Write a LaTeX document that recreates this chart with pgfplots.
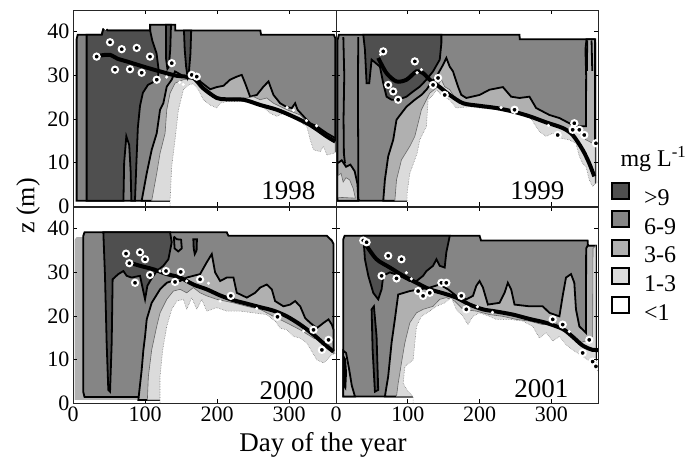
\documentclass[border=0pt]{standalone}
\usepackage{fontspec}
\setmainfont{Liberation Serif}
\usepackage{pgfplots}
\pgfplotsset{compat=1.18}
\definecolor{cNine}{gray}{0.31}
\definecolor{cSix}{gray}{0.52}
\definecolor{cThree}{gray}{0.69}
\definecolor{cOne}{gray}{0.86}
\tikzset{yr/.style={font=\fontsize{27}{28}\selectfont, anchor=base east}}
\pgfplotsset{
 panel/.style={
  scale only axis, width=263pt, height=196pt,
  xmin=0, xmax=365, ymin=0, ymax=45,
  xtick={0,100,200,300}, ytick={0,10,20,30,40},
  tick align=inside, tick pos=both, ticklabel pos=left,
  major tick length=4pt,
  tick style={black, line width=0.6pt},
  axis line style={line width=0.7pt, black!85},
  /pgf/number format/assume math mode=true,
  tick label style={font=\fontsize{22}{24}\selectfont},
  axis on top, clip mode=individual,
 },
 env/.style={fill=cSix, draw=black, line width=1.8pt},
 r36/.style={fill=cThree, draw=black, line width=1.8pt},
 r13/.style={fill=cOne, draw=black!60, line width=0.6pt},
 rW/.style={fill=white, draw=black!50, line width=0.6pt, densely dotted},
 r9/.style={fill=cNine, draw=black, line width=1.8pt},
 cline/.style={black, line width=1.8pt},
 tcl/.style={black, line width=4pt, smooth, tension=0.5},
 circ/.style={only marks, mark=*, mark size=3.1pt, mark options={fill=black, draw=white, line width=2pt, solid}},
 dots/.style={only marks, mark=*, mark size=1.4pt, mark options={fill=white, draw=white}},
}
\begin{document}
\begin{tikzpicture}
\path[use as bounding box] (0pt,0pt) rectangle (700pt,-457pt);

% ---------------- 1998 ----------------
\begin{axis}[panel, at={(73pt,-206pt)}, anchor=south west, xticklabels={}]
\addplot[env] coordinates {(5,1.2) (5,38.3) (6.5,39.3) (40,39.3) (42,40.6) (46,40.6) (48,40.3) (107,40.3) (107,41.6) (142,41.6) (142,40.3) (260,40.3) (261,39.3) (362,39.3) (364,38.5) (364,1.2)} --cycle;
\addplot[r36] coordinates {(95.3,1.2) (102.3,7.5) (109.2,12.9) (116.2,16.7) (120.8,22.1) (125.4,23.6) (130.1,27.4) (137,29.0) (141.6,30.9) (157.8,29.4) (171.7,30.1) (176.4,28.6) (190.3,26.8) (199.5,27.3) (208.8,27.6) (218,29.0) (227.3,29.7) (234.2,30.1) (238.9,28.2) (245.8,25.1) (255.1,25.5) (264.3,27.4) (271.3,28.6) (278.2,25.5) (287.5,23.6) (296.7,22.7) (303.7,22.5) (308.3,23.6) (311.6,22.1) (319.9,20.6) (329.2,19.0) (338.4,18.3) (352.3,16.7) (364,15.6) (364,1.2)} --cycle;
\addplot[r13] coordinates {(109.2,1.2) (116.2,7.5) (120.8,12.1) (127.8,16.7) (130.1,22.1) (134.7,25.9) (141.6,28.2) (153.2,29.0) (167.1,29.0) (176.4,27.1) (185.6,25.9) (199.5,24.5) (222.7,24.8) (241.2,24.8) (250.4,25.1) (259.7,24.4) (268.9,24.8) (278.2,23.6) (296.7,22.1) (315.3,20.9) (329.2,18.6) (352.3,15.6) (364,14.8) (364,1.2)} --cycle;
\addplot[rW] coordinates {(134.7,-1) (134.7,1.0) (137,9.1) (141.6,15.2) (146.3,22.1) (153.2,26.7) (160.2,27.8) (167.1,28.1) (174,26.7) (181,24.4) (190.3,23.2) (199.5,22.5) (204.2,23.6) (213.4,24.0) (236.5,24.0) (259.7,23.2) (273.6,21.3) (282.8,20.6) (292.1,21.3) (306,20.2) (324.5,18.3) (329.2,15.2) (333.8,12.9) (343,12.5) (347.7,13.7) (352.3,11.7) (361.6,12.1) (366,12.5) (366,-1)} --cycle;
\addplot[r9] coordinates {(18.9,1.2) (18.9,39.3) (40,39.3) (42,40.6) (46,40.6) (48,40.3) (107,40.3) (110,38) (116,35) (119,31) (117,29) (112,28.5) (104,27.8) (97,26) (93,23) (90,18) (88,10) (86,1.2) (81,1.2) (80,8) (78,14) (74,16) (71,10) (70,1.2)} --cycle;
\addplot[r9] coordinates {(129,41.6) (136,41.6) (135,36) (133,32) (131,31.5) (129,34)} --cycle;
\addplot[r9] coordinates {(154,40.3) (164,40.3) (163,35) (161,31) (159,29.7) (157,32) (155,36)} --cycle;
\addplot[tcl] coordinates {(30.6,34.3) (40,34.6) (51.4,34.7) (62,33.8) (74.5,33.2) (97.7,32.0) (120.8,30.9) (144,29.9) (167,29.4) (181,27.0) (199.5,24.8) (213,24.5) (236.6,24.4) (259.7,23.2) (283,22.1) (306,20.5) (329,18.6) (352,16.0) (364,14.8)};
\addplot[dots] coordinates {(45,40.8) (130,29.6) (148,28.4) (153,27.9) (297,22.6) (306,22) (324,19.6) (338,18.4)};
\addplot[circ] coordinates {(32.8,34.3) (51.4,37.6) (67.6,36.0) (88.4,36.3) (106.9,34.3) (58.3,31.3) (79.1,31.4) (95.3,30.6) (116.2,29.0) (137,32.8) (164.8,30.1) (171.7,29.7)};
\node[yr] at (rel axis cs:0.935,0.035) {1998};
\end{axis}

% ---------------- 1999 ----------------
\begin{axis}[panel, at={(336pt,-206pt)}, anchor=south west, width=262pt, xticklabels={}, yticklabels={},
  legend style={at={(axis description cs:1.05,0.125)}, anchor=north west, draw=none, fill=none,
    font=\fontsize{24}{26}\selectfont, row sep=1pt, legend cell align=left, inner sep=0pt,
    /tikz/every odd column/.append style={column sep=12pt}},
  legend image code/.code={\draw[#1,line width=1.8pt] (0pt,0pt) rectangle (17pt,16pt);}]
\addlegendimage{fill=cNine, draw=black}\addlegendentry{>9}
\addlegendimage{fill=cSix, draw=black}\addlegendentry{6-9}
\addlegendimage{fill=cThree, draw=black}\addlegendentry{3-6}
\addlegendimage{fill=cOne, draw=black}\addlegendentry{1-3}
\addlegendimage{fill=white, draw=black}\addlegendentry{<1}
\addplot[env, forget plot] coordinates {(2,1.2) (2,38) (4,39.3) (255.6,39.3) (256,38.3) (360,38.3) (361,37.5) (361,1.2)} --cycle;
\addplot[r36, forget plot] coordinates {(2,1.2) (2,9.8) (8,10.5) (14,9) (20,9.5) (26,8) (30,5) (31,1.2)} --cycle;
\addplot[r13, forget plot] coordinates {(3,2) (3,7) (7,7.5) (10,5.5) (14,6.5) (19,6) (24,4) (27,1.8)} --cycle;
\addplot[r36, forget plot] coordinates {(65.8,1.2) (68.1,6.0) (72.7,11.4) (79.7,15.2) (84.3,19.8) (91.2,21.3) (98.2,22.8) (109.8,24.4) (119,25.5) (126,26.7) (130.6,27.8) (139.9,29.7) (149.1,32.4) (153.7,34.0) (158.4,32.0) (163,30.9) (170,27.4) (174.6,25.5) (181.5,24.8) (200,25.5) (213.9,26.7) (232.5,27.3) (244,25.1) (255.6,24.8) (269.5,25.1) (278.8,22.5) (288,21.7) (297.3,20.9) (311.2,20.2) (325,19.0) (334.3,18.3) (348.2,18.3) (348.5,30) (347.5,36) (349,38.3) (361,38.3) (361,1.2)} --cycle;
\addplot[r13, forget plot] coordinates {(82,1.2) (84.3,6.0) (91.2,10.6) (102.8,13.7) (109.8,16.0) (114.4,19.0) (119,22.1) (126,24.4) (130.6,25.9) (139.9,27.1) (146.8,29.0) (151.4,27.4) (158.4,26.7) (167.6,24.4) (176.9,23.2) (200,22.7) (223.2,22.5) (246.4,22.1) (269.5,20.9) (288,19.8) (306.5,18.3) (325,17.5) (339,16.7) (348.2,15.2) (357.5,14.4) (361,15.2) (361,1.2)} --cycle;
\addplot[rW, forget plot] coordinates {(99.1,-1) (99.1,3.0) (102.8,7.5) (113,12.1) (116.7,15.2) (126,18.3) (128.3,24.4) (135.2,25.5) (139.9,26.7) (149.1,25.1) (158.4,24.4) (167.6,22.5) (186.2,22.8) (200,22.5) (223.2,22.1) (246.4,21.3) (269.5,20.6) (283.4,17.1) (292.7,16.0) (301.9,16.7) (311.2,15.6) (325,15.2) (334.3,14.4) (339,11.4) (343.6,9.8) (348.2,9.1) (352.8,6.0) (357.5,4.5) (362.1,5.2) (366.7,6.0) (366.7,-1)} --cycle;
\addplot[r9, forget plot] coordinates {(38,39.3) (40.3,35.9) (42.6,28.2) (46.3,28.2) (49.6,33.6) (61.2,32.0) (65.8,28.2) (70.4,25.1) (77.4,24.4) (86.6,24.4) (98.2,25.1) (107.5,26.3) (116.7,27.4) (126,29.0) (135.2,30.9) (144.5,33.6) (146.8,37.4) (146.8,39.3)} --cycle;
\addplot[cline, forget plot] coordinates {(10.2,38.8) (11.5,30) (10.5,20) (11,12) (12.5,9.8)};
\addplot[cline, forget plot] coordinates {(31,38.8) (30.5,25) (31,12) (31,1.5) (33,1.2)};
\addplot[cline, forget plot] coordinates {(350,38) (349.5,31)};
\addplot[cline, forget plot] coordinates {(356,38) (357,31)};
\addplot[tcl, forget plot] coordinates {(58.8,34.0) (70.4,30.5) (84.3,28.6) (98.2,29.0) (112.1,30.9) (121.3,30.5) (130.6,29.0) (144.5,27.3) (158.4,25.5) (176.9,23.6) (200,23.0) (223.2,22.5) (246.4,21.7) (269.5,20.6) (292.7,19.2) (315.8,17.9) (329.7,16.3) (343.6,12.9) (352.8,9.8) (359.8,6.8)};
\addplot[dots, forget plot] coordinates {(62,34.8) (119,31.3) (113,30.6) (156,22.5) (230,22.6) (296,18.5)};
\addplot[circ, forget plot] coordinates {(65.8,35.5) (72.7,27.8) (79.7,26.3) (86.6,24.4) (109.8,33.2) (142.2,29.4) (135.2,27.8) (151.4,25.5) (248.7,22.1) (308.8,16.3) (332,19.0) (329.7,17.5) (339,17.5) (345.9,16.3) (362.1,14.4)};
\node[yr] at (rel axis cs:0.885,0.035) {1999};
\node[anchor=base west, font=\fontsize{24}{26}\selectfont] at (axis description cs:1.0725,0.2) {mg L\textsuperscript{-1}};
\end{axis}

% ---------------- 2000 ----------------
\begin{axis}[panel, at={(73pt,-403pt)}, anchor=south west]
\addplot[fill=cSix, draw=none] coordinates {(2.7,0.7) (2.7,37.5) (5,38.0) (14.3,38.0) (16,39.2) (213.4,39.2) (215.7,38.4) (352.3,38.4) (359.2,37.3) (361.6,36.5) (361.6,0.7)} --cycle;
\addplot[fill=cThree, draw=none] coordinates {(2.7,0.7) (2.7,37.5) (5,38.0) (14.3,38.0) (14.3,1.4) (91,1.4) (91,0.7)} --cycle;
\addplot[cline] coordinates {(91,1.4) (16,1.4) (14.3,2.5) (14.3,38.4) (16,39.2) (213.4,39.2) (215.7,38.4) (352.3,38.4) (359.2,37.3) (361.6,36.5) (361.6,12)};
\addplot[r36] coordinates {(90.7,0.7) (95.3,7.6) (97.7,12.2) (100,15.3) (102.3,19.2) (109.2,23.0) (120.8,26.1) (130.1,27.6) (137,28.0) (148.6,28.0) (157.8,28.8) (167.1,29.2) (176.4,29.6) (185.6,32.3) (192.6,34.2) (197.2,30.0) (204.2,28.0) (213.4,28.8) (222.7,28.8) (227.3,25.3) (241.2,24.2) (252.8,25.3) (259.7,26.5) (268.9,27.2) (275.9,26.1) (280.5,23.4) (292.1,22.2) (301.4,22.6) (308.3,23.4) (315.3,22.2) (322.2,19.5) (329.2,18.4) (338.4,17.2) (347.7,18.4) (354.6,19.2) (359.2,18.0) (361.6,16.8) (361.6,0.7)} --cycle;
\addplot[r13] coordinates {(103.2,0.7) (104.6,6.1) (109.2,12.2) (116.2,17.6) (120.8,20.7) (130.1,23.8) (139.3,25.7) (148.6,26.1) (157.8,25.3) (167.1,26.5) (176.4,25.3) (185.6,24.6) (199.5,23.8) (222.7,23.0) (241.2,22.2) (259.7,21.5) (278.2,19.9) (296.7,18.4) (315.3,16.8) (333.8,14.9) (352.3,13.8) (361.6,12.2) (361.6,0.7)} --cycle;
\addplot[rW] coordinates {(120.8,-1) (120.8,6.1) (124.5,12.2) (130.1,17.6) (137,21.5) (143.9,23.4) (153.2,23.8) (157.8,21.5) (164.8,24.2) (171.7,21.5) (178.7,23.8) (185.6,21.1) (199.5,21.9) (213.4,21.1) (231.9,21.1) (250.4,20.7) (268.9,20.3) (280.5,18.8) (287.5,17.2) (296.7,16.8) (306,15.3) (315.3,14.9) (324.5,13.8) (338.4,9.9) (347.7,9.2) (352.3,9.9) (359.2,11.1) (366,11.5) (366,-1)} --cycle;
\addplot[r9] coordinates {(42.1,39.2) (44.4,29.2) (46.7,13.8) (49,3.0) (51.4,2.6) (53.7,13.8) (55,28.4) (62.9,29.6) (69.9,30.3) (74.5,29.2) (81.4,28.8) (93,29.2) (100,23.8) (103.2,26.9) (106.9,28.0) (116.2,30.3) (125.4,31.5) (132.4,33.0) (137,36.9) (134.7,39.2)} --cycle;
\addplot[r9] coordinates {(167,37.6) (172,37.6) (171.5,35) (169,34.2) (167.5,35.5)} --cycle;
\addplot[cline] coordinates {(140,38.2) (144,37.6) (150,37.5) (151,35.5) (146,34.8) (141,35.5) (140,38.2)};
\addplot[tcl] coordinates {(76.8,32.3) (93,31.5) (111.5,30.7) (130.1,29.6) (148.6,28.8) (167.1,27.2) (185.6,26.1) (204.2,24.7) (222.7,23.6) (241.2,22.8) (259.7,22.0) (278.2,21.2) (296.7,19.9) (315.3,18.0) (333.8,15.7) (352.3,13.0) (361.6,11.8)};
\addplot[dots] coordinates {(120.8,30.3) (157.8,28.0) (188,27.5) (204.2,23.4) (255,21.7) (320,16.5)};
\addplot[circ] coordinates {(73.6,34.3) (78.2,32.1) (93,34.6) (100,33.0) (86.1,27.6) (106.9,29.4) (129.1,30.3) (141.6,27.8) (149.5,30.1) (176.4,28.4) (219,24.6) (283.8,19.8) (345.4,12.2) (354.6,14.5) (333.8,16.8)};
\node[yr] at (rel axis cs:0.928,0.02) {2000};
\end{axis}

% ---------------- 2001 ----------------
\begin{axis}[panel, at={(336pt,-403pt)}, anchor=south west, width=262pt, yticklabels={}]
\addplot[env] coordinates {(10.2,1.5) (10.2,37.6) (12,38.4) (200,38.4) (202,37.3) (350.5,37.3) (351,36.1) (362,36.1) (362,1.5)} --cycle;
\addplot[r36] coordinates {(10.2,1.5) (10.2,12) (14,11.5) (18,8) (22,4) (26.4,1.5)} --cycle;
\addplot[r9] coordinates {(11,4) (11,10.5) (12.8,10) (14,7) (13,3.5)} --cycle;
\addplot[r36] coordinates {(68.1,1.5) (72.7,6.1) (77.4,13.8) (82,19.2) (86.6,24.9) (102.8,25.7) (116.7,26.1) (130.6,26.5) (144.5,27.2) (156,26.1) (167.6,24.6) (181.5,23.8) (190.8,24.6) (195.4,26.9) (200,28.0) (204.7,26.5) (211.6,22.6) (227.8,23.0) (234.8,25.3) (239.4,27.6) (244,26.1) (248.7,22.6) (269.5,22.2) (288,22.2) (297.3,20.7) (311.2,19.9) (315.8,24.6) (320.4,28.8) (327.4,29.6) (332,27.6) (334.3,21.5) (339,17.6) (348.2,16.1) (348.5,35.5) (350.5,36.1) (362,36.1) (362,1.5)} --cycle;
\addplot[r13] coordinates {(84.3,1.5) (86.6,4.5) (91.2,9.2) (95.9,13.8) (102.8,18.4) (112.1,20.7) (121.3,21.5) (135.2,22.2) (144.5,23.8) (153.7,24.2) (165.3,23.4) (176.9,21.5) (195.4,21.1) (213.9,20.3) (232.5,19.9) (251,19.2) (269.5,18.8) (288,18.0) (306.5,18.4) (325,16.1) (339,13.8) (352.8,14.5) (357.5,15.3) (358,35.5) (362,36.1) (362,1.5)} --cycle;
\addplot[rW] coordinates {(107.5,-1) (107.5,1.5) (100.5,2.6) (93.6,4.5) (95.9,8.4) (107.5,9.9) (109.8,13.8) (112.1,17.6) (119,19.9) (130.6,21.1) (139.9,22.2) (151.4,23.0) (160.7,24.2) (167.6,21.5) (176.9,19.9) (183.8,18.0) (190.8,19.9) (200,20.7) (213.9,19.9) (223.2,19.2) (241.7,19.2) (260.2,18.8) (274.1,17.6) (283.4,14.9) (292.7,16.1) (301.9,14.2) (311.2,15.3) (320.4,13.4) (329.7,12.2) (343.6,10.7) (357.5,9.2) (366.7,6.8) (366.7,-1)} --cycle;
\addplot[r9] coordinates {(38,38.4) (40.3,33.0) (45,29.2) (51.9,25.3) (58.8,23.8) (63.5,26.1) (65.8,29.2) (75,30.0) (82,29.6) (93.6,28.8) (102.8,28.0) (112.1,28.0) (121.3,29.2) (126,30.3) (135.2,31.5) (139.9,33.0) (144.5,31.5) (151.4,31.1) (153.7,34.6) (157.5,37.6) (158.4,38.4)} --cycle;
\addplot[r9] coordinates {(49.6,21.5) (52.8,22.2) (56.5,15.3) (58.8,3.0) (54.2,2.6) (51,12.2)} --cycle;
\addplot[tcl] coordinates {(42.6,36.1) (56.5,33.0) (75,31.1) (93.6,29.2) (112.1,27.6) (130.6,26.1) (149.1,25.2) (167.6,24.2) (186.2,22.6) (204.7,21.5) (223.2,21.0) (246.4,20.3) (269.5,19.3) (292.7,18.4) (315.8,17.0) (329.7,15.2) (343.6,13.2) (357.5,12.2) (366.7,12.2)};
\addplot[dots] coordinates {(98,29.9) (105,28.5) (197,22.1) (218,20.8) (325,16.4)};
\addplot[circ] coordinates {(38,37.3) (42.6,36.9) (72.7,33.8) (91.2,33.0) (63.5,29.2) (84.3,28.6) (114.4,25.7) (121.3,24.6) (130.6,25.3) (146.8,27.6) (153.7,27.6) (174.6,24.6) (181.5,21.5) (301.9,19.2) (315.8,18.0) (352.8,14.5) (343.6,11.5) (357.5,9.5) (362.1,8.4)};
\node[yr] at (rel axis cs:0.90,0.03) {2001};
\end{axis}

\node[rotate=90, font=\fontsize{26}{28}\selectfont] at (28pt,-206pt) {z (m)};
\node[anchor=base, font=\fontsize{27}{28}\selectfont] at (323pt,-451pt) {Day of the year};
\end{tikzpicture}
\end{document}
